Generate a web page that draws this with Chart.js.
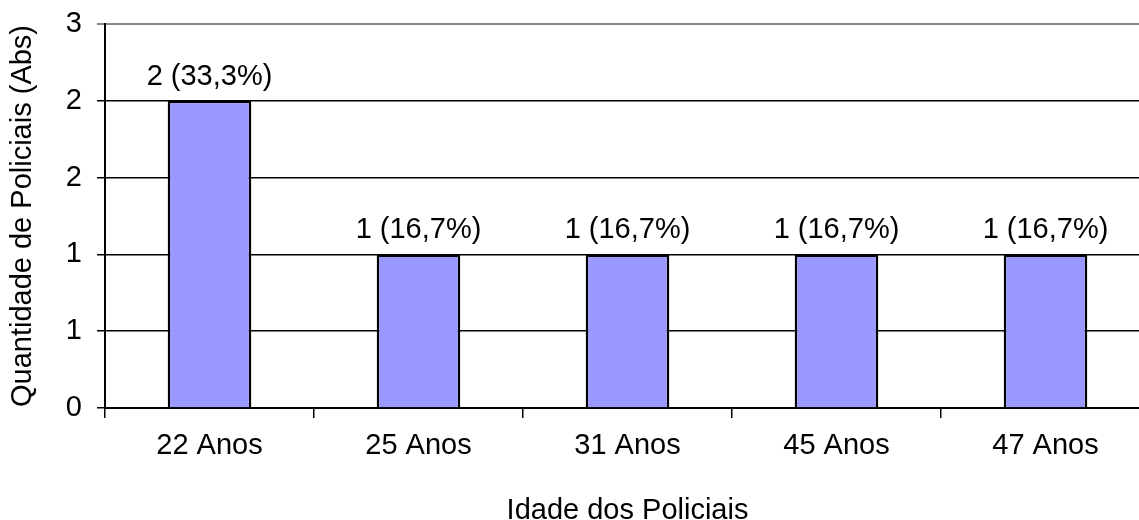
<!DOCTYPE html>
<html>
<head>
<meta charset="utf-8">
<script src="https://cdn.jsdelivr.net/npm/chart.js@4/dist/chart.umd.min.js"></script>
<style>
  html, body { margin: 0; padding: 0; background: #fff; overflow: hidden; }
  #wrap { width: 1152px; height: 520px; }
</style>
</head>
<body>
<div id="wrap"><canvas id="chart" width="1152" height="520"></canvas></div>
<script>
'use strict';

const categories = ['22 Anos', '25 Anos', '31 Anos', '45 Anos', '47 Anos'];
const policiais = [2, 1, 1, 1, 1];
const yTicks = [0, 0.5, 1, 1.5, 2, 2.5];

const total = policiais.reduce((a, b) => a + b, 0);
const fontFamily = '"Liberation Sans", Arial, sans-serif';
const font = { family: fontFamily, size: 29 };

// valor e percentual acima de cada barra
const barLabels = {
  id: 'barLabels',
  afterDatasetsDraw(chart) {
    const ctx = chart.ctx;
    const meta = chart.getDatasetMeta(0);
    ctx.save();
    ctx.font = '29px ' + fontFamily;
    ctx.fillStyle = '#000';
    ctx.textAlign = 'center';
    ctx.textBaseline = 'alphabetic';
    meta.data.forEach((bar, i) => {
      const v = policiais[i];
      const pct = (v / total * 100).toFixed(1).replace('.', ',');
      ctx.fillText(v + ' (' + pct + '%)', bar.x, bar.y - 16);
    });
    ctx.restore();
  }
};

new Chart(document.getElementById('chart'), {
  type: 'bar',
  data: {
    labels: categories,
    datasets: [{
      data: policiais,
      backgroundColor: '#9999ff',
      borderColor: '#000',
      borderWidth: 2.5,
      categoryPercentage: 1,
      barPercentage: 0.4
    }]
  },
  options: {
    responsive: false,
    animation: false,
    layout: { padding: { top: 24, right: 2, bottom: 0, left: 0 } },
    plugins: { legend: { display: false }, tooltip: { enabled: false } },
    scales: {
      x: {
        offset: true,
        grid: {
          offset: true,
          drawOnChartArea: false,
          drawTicks: true,
          tickLength: 10,
          color: '#000',
          lineWidth: 1.5
        },
        border: { color: '#000', width: 2 },
        ticks: { color: '#000', font: font, padding: 11 },
        title: {
          display: true,
          text: 'Idade dos Policiais',
          color: '#000',
          font: font,
          padding: { top: 0, bottom: -8 }
        },
        afterFit(axis) {
          axis.height = 112;
          axis.paddingLeft = 0;
          axis.paddingRight = 0;
        }
      },
      y: {
        min: 0,
        max: 2.5,
        afterBuildTicks(axis) { axis.ticks = yTicks.map(v => ({ value: v })); },
        grid: {
          color: (c) => (c.index === yTicks.length - 1 ? '#888' : '#000'),
          lineWidth: (c) => (c.index === yTicks.length - 1 ? 2 : 1.5),
          tickLength: 8
        },
        border: { color: '#000', width: 2 },
        ticks: {
          color: '#000',
          font: font,
          padding: 15,
          callback: (v) => Math.round(v)
        },
        title: {
          display: true,
          text: 'Quantidade de Policiais (Abs)',
          color: '#000',
          font: font,
          padding: { top: 6, bottom: 0 }
        },
        afterFit(axis) {
          axis.width = 105;
          axis.paddingTop = 0;
          axis.paddingBottom = 0;
        }
      }
    }
  },
  plugins: [barLabels]
});
</script>
</body>
</html>
